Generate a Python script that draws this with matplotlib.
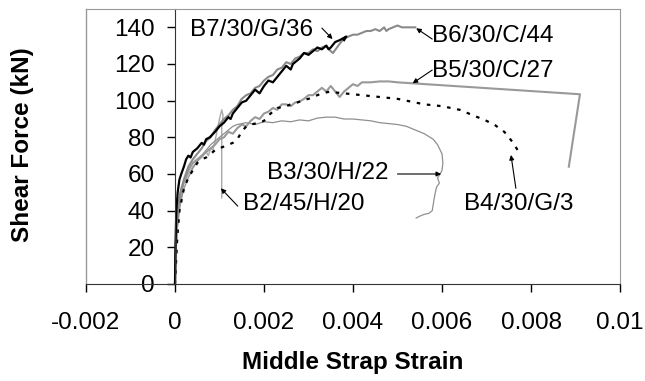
import matplotlib.pyplot as plt
import numpy as np

plt.rcParams['font.family'] = ['Liberation Sans', 'DejaVu Sans']

# B7/30/G/36 (black solid)
b7_x = [0, 0.00001, 0.00003, 0.00006, 0.0001, 0.00014, 0.0002, 0.00025, 0.0003, 0.00035,
        0.0004, 0.0005, 0.0006, 0.00065, 0.0007, 0.00078, 0.0009, 0.001, 0.0011, 0.0012,
        0.00125, 0.0013, 0.0014, 0.0015, 0.0016, 0.0017, 0.0018, 0.0019, 0.002, 0.0021,
        0.0022, 0.0023, 0.0024, 0.0025, 0.0026, 0.00265, 0.0027, 0.0028, 0.0029, 0.003,
        0.0031, 0.0032, 0.0033, 0.0034, 0.00345, 0.0035, 0.0036, 0.0037, 0.00385, 0.0038]
b7_y = [0, 20, 40, 50, 57, 60, 64, 68, 70, 69,
        72, 74, 77, 76, 79, 80, 83, 86, 88, 91,
        90, 93, 96, 99, 100, 103, 106, 104, 108, 111,
        110, 113, 116, 119, 117, 120, 121, 123, 126, 125,
        127, 129, 128, 130, 128, 129, 132, 133, 135, 133]

# B6/30/C/44 (grey)
b6_x = [0, 0.00001, 0.00003, 0.00007, 0.00012, 0.0002, 0.0003, 0.0004, 0.0005, 0.0006,
        0.0007, 0.0008, 0.0009, 0.001, 0.0011, 0.0012, 0.0013, 0.0014, 0.0015, 0.0016,
        0.0017, 0.0018, 0.0019, 0.002, 0.0021, 0.0022, 0.0023, 0.0024, 0.0025, 0.0026,
        0.0027, 0.0028, 0.0029, 0.003, 0.0031, 0.0032, 0.0033, 0.0034, 0.0035, 0.00355,
        0.0037, 0.0038, 0.0039, 0.004, 0.0041, 0.0042, 0.0043, 0.0044, 0.0045, 0.0046,
        0.0047, 0.00475, 0.0048, 0.0049, 0.005, 0.0051, 0.0052, 0.0053, 0.0054]
b6_y = [0, 15, 30, 42, 50, 57, 64, 68, 71, 74,
        78, 80, 84, 87, 90, 92, 95, 97, 101, 103,
        104, 107, 108, 111, 113, 114, 117, 118, 121, 120,
        123, 124, 126, 126, 128, 127, 129, 130, 127, 126,
        131, 134, 135, 136, 136, 137, 138, 138, 139, 138,
        140, 138, 139, 140, 141, 140, 140, 140, 140]

# B5/30/C/27 (grey)
b5_x = [0, 0.00002, 0.00005, 0.0001, 0.00015, 0.0002, 0.0003, 0.0004, 0.0005, 0.0006,
        0.0007, 0.0008, 0.0009, 0.001, 0.0011, 0.0012, 0.0013, 0.0014, 0.0015, 0.0016,
        0.0017, 0.0018, 0.0019, 0.002, 0.0021, 0.0022, 0.0023, 0.0024, 0.0025, 0.0026,
        0.0027, 0.0028, 0.0029, 0.003, 0.0031, 0.0032, 0.0033, 0.0034, 0.0035, 0.0036,
        0.0037, 0.0038, 0.0039, 0.004, 0.0041, 0.0042, 0.0044, 0.0046, 0.0048, 0.005,
        0.0091, 0.00885]
b5_y = [0, 20, 35, 45, 52, 56, 62, 66, 68, 70,
        72, 74, 76, 79, 80, 83, 82, 85, 87, 86,
        89, 91, 90, 93, 94, 96, 95, 98, 98, 97,
        99, 99.5, 101, 103, 103, 105, 107, 105, 108, 105,
        102, 105, 107, 109, 108, 110, 110, 110.5, 110.5, 110,
        103.5, 64]

# B4/30/G/3 (black dotted)
b4_x = [0, 0.00002, 0.00005, 0.0001, 0.0002, 0.0003, 0.0004, 0.0005, 0.0006, 0.0007,
        0.0008, 0.0009, 0.001, 0.0011, 0.0012, 0.0013, 0.0014, 0.0015, 0.0016, 0.0017,
        0.0018, 0.0019, 0.002, 0.0021, 0.0022, 0.0023, 0.0024, 0.0025, 0.0026, 0.0027,
        0.0028, 0.0029, 0.003, 0.0031, 0.0032, 0.0033, 0.0034, 0.0035, 0.0036, 0.0038,
        0.004, 0.0042, 0.0044, 0.0046, 0.0048, 0.005, 0.0052, 0.0054, 0.0056, 0.0058,
        0.006, 0.0062, 0.0064, 0.0066, 0.0068, 0.007, 0.0072, 0.0074, 0.0076, 0.0077]
b4_y = [0, 10, 25, 40, 52, 58, 62, 66, 68, 69,
        71, 73, 74, 75, 76, 77, 79, 83, 86, 87,
        87.5, 88, 89, 92, 94, 96, 96.5, 97, 98, 98.5,
        99.5, 100.5, 101, 102, 103, 104, 104.5, 105, 104.5, 104,
        103.5, 103, 102.5, 102, 101.5, 101, 100, 99, 98, 97.5,
        97, 96, 95, 93, 91, 89, 86.5, 83, 77, 73]

# B3/30/H/22 (thin grey)
b3_x = [0, 0.00002, 0.00005, 0.0001, 0.0002, 0.0003, 0.0004, 0.0005, 0.0006, 0.0007,
        0.0008, 0.0009, 0.001, 0.0011, 0.0012, 0.0013, 0.0014, 0.0016, 0.0018, 0.002,
        0.0022, 0.0024, 0.0026, 0.0028, 0.003, 0.0032, 0.0034, 0.0036, 0.0038, 0.004,
        0.0042, 0.0044, 0.0046, 0.0048, 0.005, 0.0052, 0.0054, 0.0056, 0.0058, 0.0059,
        0.006, 0.00602, 0.006, 0.00596, 0.0059, 0.00594, 0.00588, 0.00585, 0.00582, 0.0058,
        0.00578, 0.0057, 0.0056, 0.0055, 0.00542]
b3_y = [0, 15, 30, 42, 52, 58, 63, 67, 70, 73,
        76, 78, 80, 82, 84, 86, 87, 88, 87, 88.5,
        88, 89, 88.5, 89.5, 89, 90.5, 91, 91, 90, 90,
        89.5, 89, 88, 87.5, 87, 86, 84, 82, 79, 76,
        71, 66, 62, 60, 58, 55, 53, 50, 46, 43,
        40, 38.5, 38, 37, 36]

# B2/45/H/20 (light grey)
b2_x = [0, 0.00002, 0.00005, 0.0001, 0.00015, 0.0002, 0.0003, 0.0004, 0.0005, 0.0006,
        0.0007, 0.00075, 0.0008, 0.00085, 0.0009, 0.00095, 0.001, 0.00105, 0.00108, 0.00105,
        0.00105]
b2_y = [0, 18, 30, 40, 48, 55, 60, 64, 67, 69,
        72, 70, 74, 73, 78, 84, 90, 95, 92, 86,
        47]

x_ticks = [-0.002, 0, 0.002, 0.004, 0.006, 0.008, 0.01]
x_tick_labels = ['-0.002', '0', '0.002', '0.004', '0.006', '0.008', '0.01']
y_ticks = [0, 20, 40, 60, 80, 100, 120, 140]

fig = plt.figure(figsize=(6.45, 3.81), dpi=100)
ax = fig.add_axes([86 / 645, 97 / 381, 534 / 645, 275 / 381])

ax.plot(b2_x, b2_y, color='#a8a8a8', lw=1.0)
ax.plot(b3_x, b3_y, color='#8f8f8f', lw=0.9)
ax.plot(b5_x, b5_y, color='#999999', lw=1.5)
ax.plot(b4_x, b4_y, color='black', lw=1.6, linestyle=(0, (1.6, 3.0)))
ax.plot(b6_x, b6_y, color='#8a8a8a', lw=1.5)
ax.plot(b7_x, b7_y, color='black', lw=1.6)

ax.set_xlim(-0.002, 0.01)
ax.set_ylim(0, 150)

# axes box: y axis crosses at 0, frame in grey
ax.spines['left'].set_position(('data', 0))
ax.spines['left'].set_color('#333333')
ax.spines['bottom'].set_color('#333333')
for s in ['top', 'right']:
    ax.spines[s].set_color('#999999')
ax.axvline(-0.002, color='#999999', lw=1.0, clip_on=False)

ax.set_xticks(x_ticks)
ax.set_xticklabels(x_tick_labels)
ax.set_yticks(y_ticks)
ax.tick_params(axis='x', direction='out', length=5.5, width=1, pad=15, labelsize=17.5)
ax.tick_params(axis='y', direction='out', length=5.5, width=1, pad=9, labelsize=17.5)

fig.text(353 / 645, 1 - 362 / 381, 'Middle Strap Strain', ha='center', va='center',
         fontsize=17.5, fontweight='bold')
fig.text(23 / 645, 1 - 145 / 381, 'Shear Force (kN)', ha='center', va='center',
         rotation=90, fontsize=17.5, fontweight='bold')

# series labels with arrows
labels = [
    ('B7/30/G/36', (0.00034, 138.5), (0.0033, 139.6), (0.00354, 133.6)),
    ('B6/30/C/44', (0.00578, 135.3), (0.00578, 133.6), (0.00542, 139.5)),
    ('B5/30/C/27', (0.00578, 116.2), (0.00578, 116.7), (0.00534, 109.5)),
    ('B3/30/H/22', (0.00206, 60.5), (0.005, 60), (0.00598, 60)),
    ('B2/45/H/20', (0.00152, 43.6), (0.00141, 42.5), (0.00103, 52.2)),
    ('B4/30/G/3', (0.0065, 43.6), (0.00766, 52.2), (0.00755, 70.4)),
]
for txt, pos, tail, head in labels:
    ax.text(pos[0], pos[1], txt, ha='left', va='center', fontsize=17.5)
    ax.annotate('', xy=head, xytext=tail,
                arrowprops=dict(arrowstyle='-|>', color='black', lw=0.8,
                                mutation_scale=7, shrinkA=0, shrinkB=0))

fig.savefig('out.png', dpi=100)
